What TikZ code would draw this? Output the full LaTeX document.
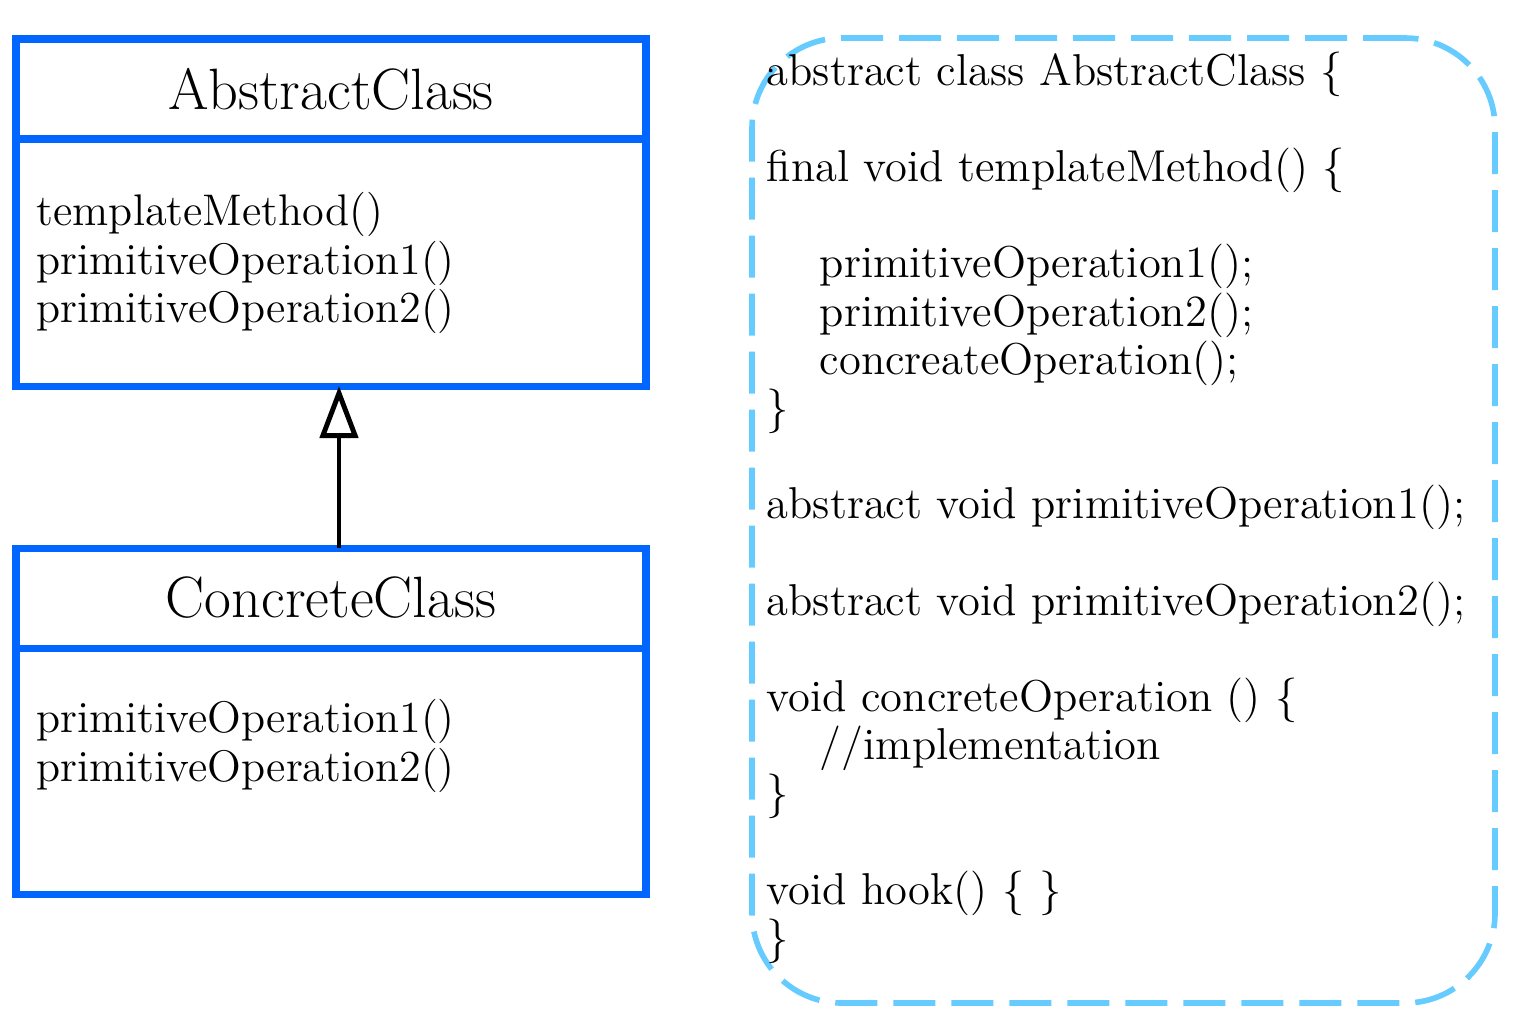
\documentclass[tikz,border=0pt]{standalone}
\usepackage{xcolor}
\definecolor{ClassBorder}{RGB}{0,102,255}
\definecolor{NoteBorder}{RGB}{102,204,255}
\usepackage{tikz}
\usetikzlibrary{
  positioning,
  arrows.meta
}
\tikzset{
  % Class name compartment
  classhead/.style={
    rectangle,
    draw=ClassBorder,
    line width=2pt,
    minimum width=6.30cm,
    minimum height=1.00cm,
    inner sep=0pt,
    outer sep=0pt,
    font=\fontsize{16.6pt}{19pt}\selectfont
  },
  % Class operations compartment
  classbody/.style={
    rectangle,
    draw=ClassBorder,
    line width=2pt,
    minimum width=6.30cm,
    minimum height=2.47cm,
    inner sep=0pt,
    outer sep=0pt
  },
  % Operation list
  methods/.style={
    align=left,
    inner sep=0pt,
    anchor=north west,
    font=\fontsize{12.6pt}{13.71pt}\selectfont
  },
  % Code note
  notebox/.style={
    rectangle,
    draw=NoteBorder,
    line width=1.6pt,
    rounded corners=0.9cm,
    dash pattern=on 0.42cm off 0.16cm,
    minimum width=7.43cm,
    minimum height=9.65cm,
    outer sep=0pt
  },
  codetext/.style={
    align=left,
    inner sep=0pt,
    anchor=north west,
    font=\fontsize{12.7pt}{13.71pt}\selectfont
  },
  % Generalisation arrow
  inherit/.style={
    draw=black,
    line width=1.4pt,
    line join=round,
    -{Triangle[open, length=0.52cm, width=0.38cm]}
  }
}

\begin{document}
\begin{tikzpicture}
  \useasboundingbox (0,0) rectangle (15.25,-10.27);

  % Abstract class
  \node[classhead] (abstractHead) at (3.31,-0.89) {AbstractClass};
  \node[classbody, below=0pt of abstractHead] (abstractBody) {};
  \node[methods] (abstractOps) at ([shift={(0.20,-0.53)}]abstractBody.north west)
    {templateMethod()\\ primitiveOperation1()\\ primitiveOperation2()};

  % Concrete class
  \node[classhead, below=1.62cm of abstractBody] (concreteHead) {ConcreteClass};
  \node[classbody, minimum height=2.46cm, below=0pt of concreteHead] (concreteBody) {};
  \node[methods] (concreteOps) at ([shift={(0.20,-0.51)}]concreteBody.north west)
    {primitiveOperation1()\\ primitiveOperation2()};

  % Generalisation
  \draw[inherit] ([xshift=0.08cm]concreteHead.north) -- ([xshift=0.08cm]abstractBody.south);

  % Code note
  \node[notebox] (codeBox) at (11.235,-5.205) {};
  \node[codetext] (codeText) at ([shift={(0.14,-0.13)}]codeBox.north west) {%
    abstract class AbstractClass \{\\[13.71pt]
    final void templateMethod() \{\\[13.71pt]
    \hspace*{0.53cm}primitiveOperation1();\\
    \hspace*{0.53cm}primitiveOperation2();\\
    \hspace*{0.53cm}concreateOperation();\\
    \}\\[13.71pt]
    abstract void primitiveOperation1();\\[13.71pt]
    abstract void primitiveOperation2();\\[13.71pt]
    void concreteOperation () \{\\
    \hspace*{0.53cm}//implementation\\
    \}\\[13.71pt]
    void hook() \{ \}\\
    \}};
\end{tikzpicture}
\end{document}
